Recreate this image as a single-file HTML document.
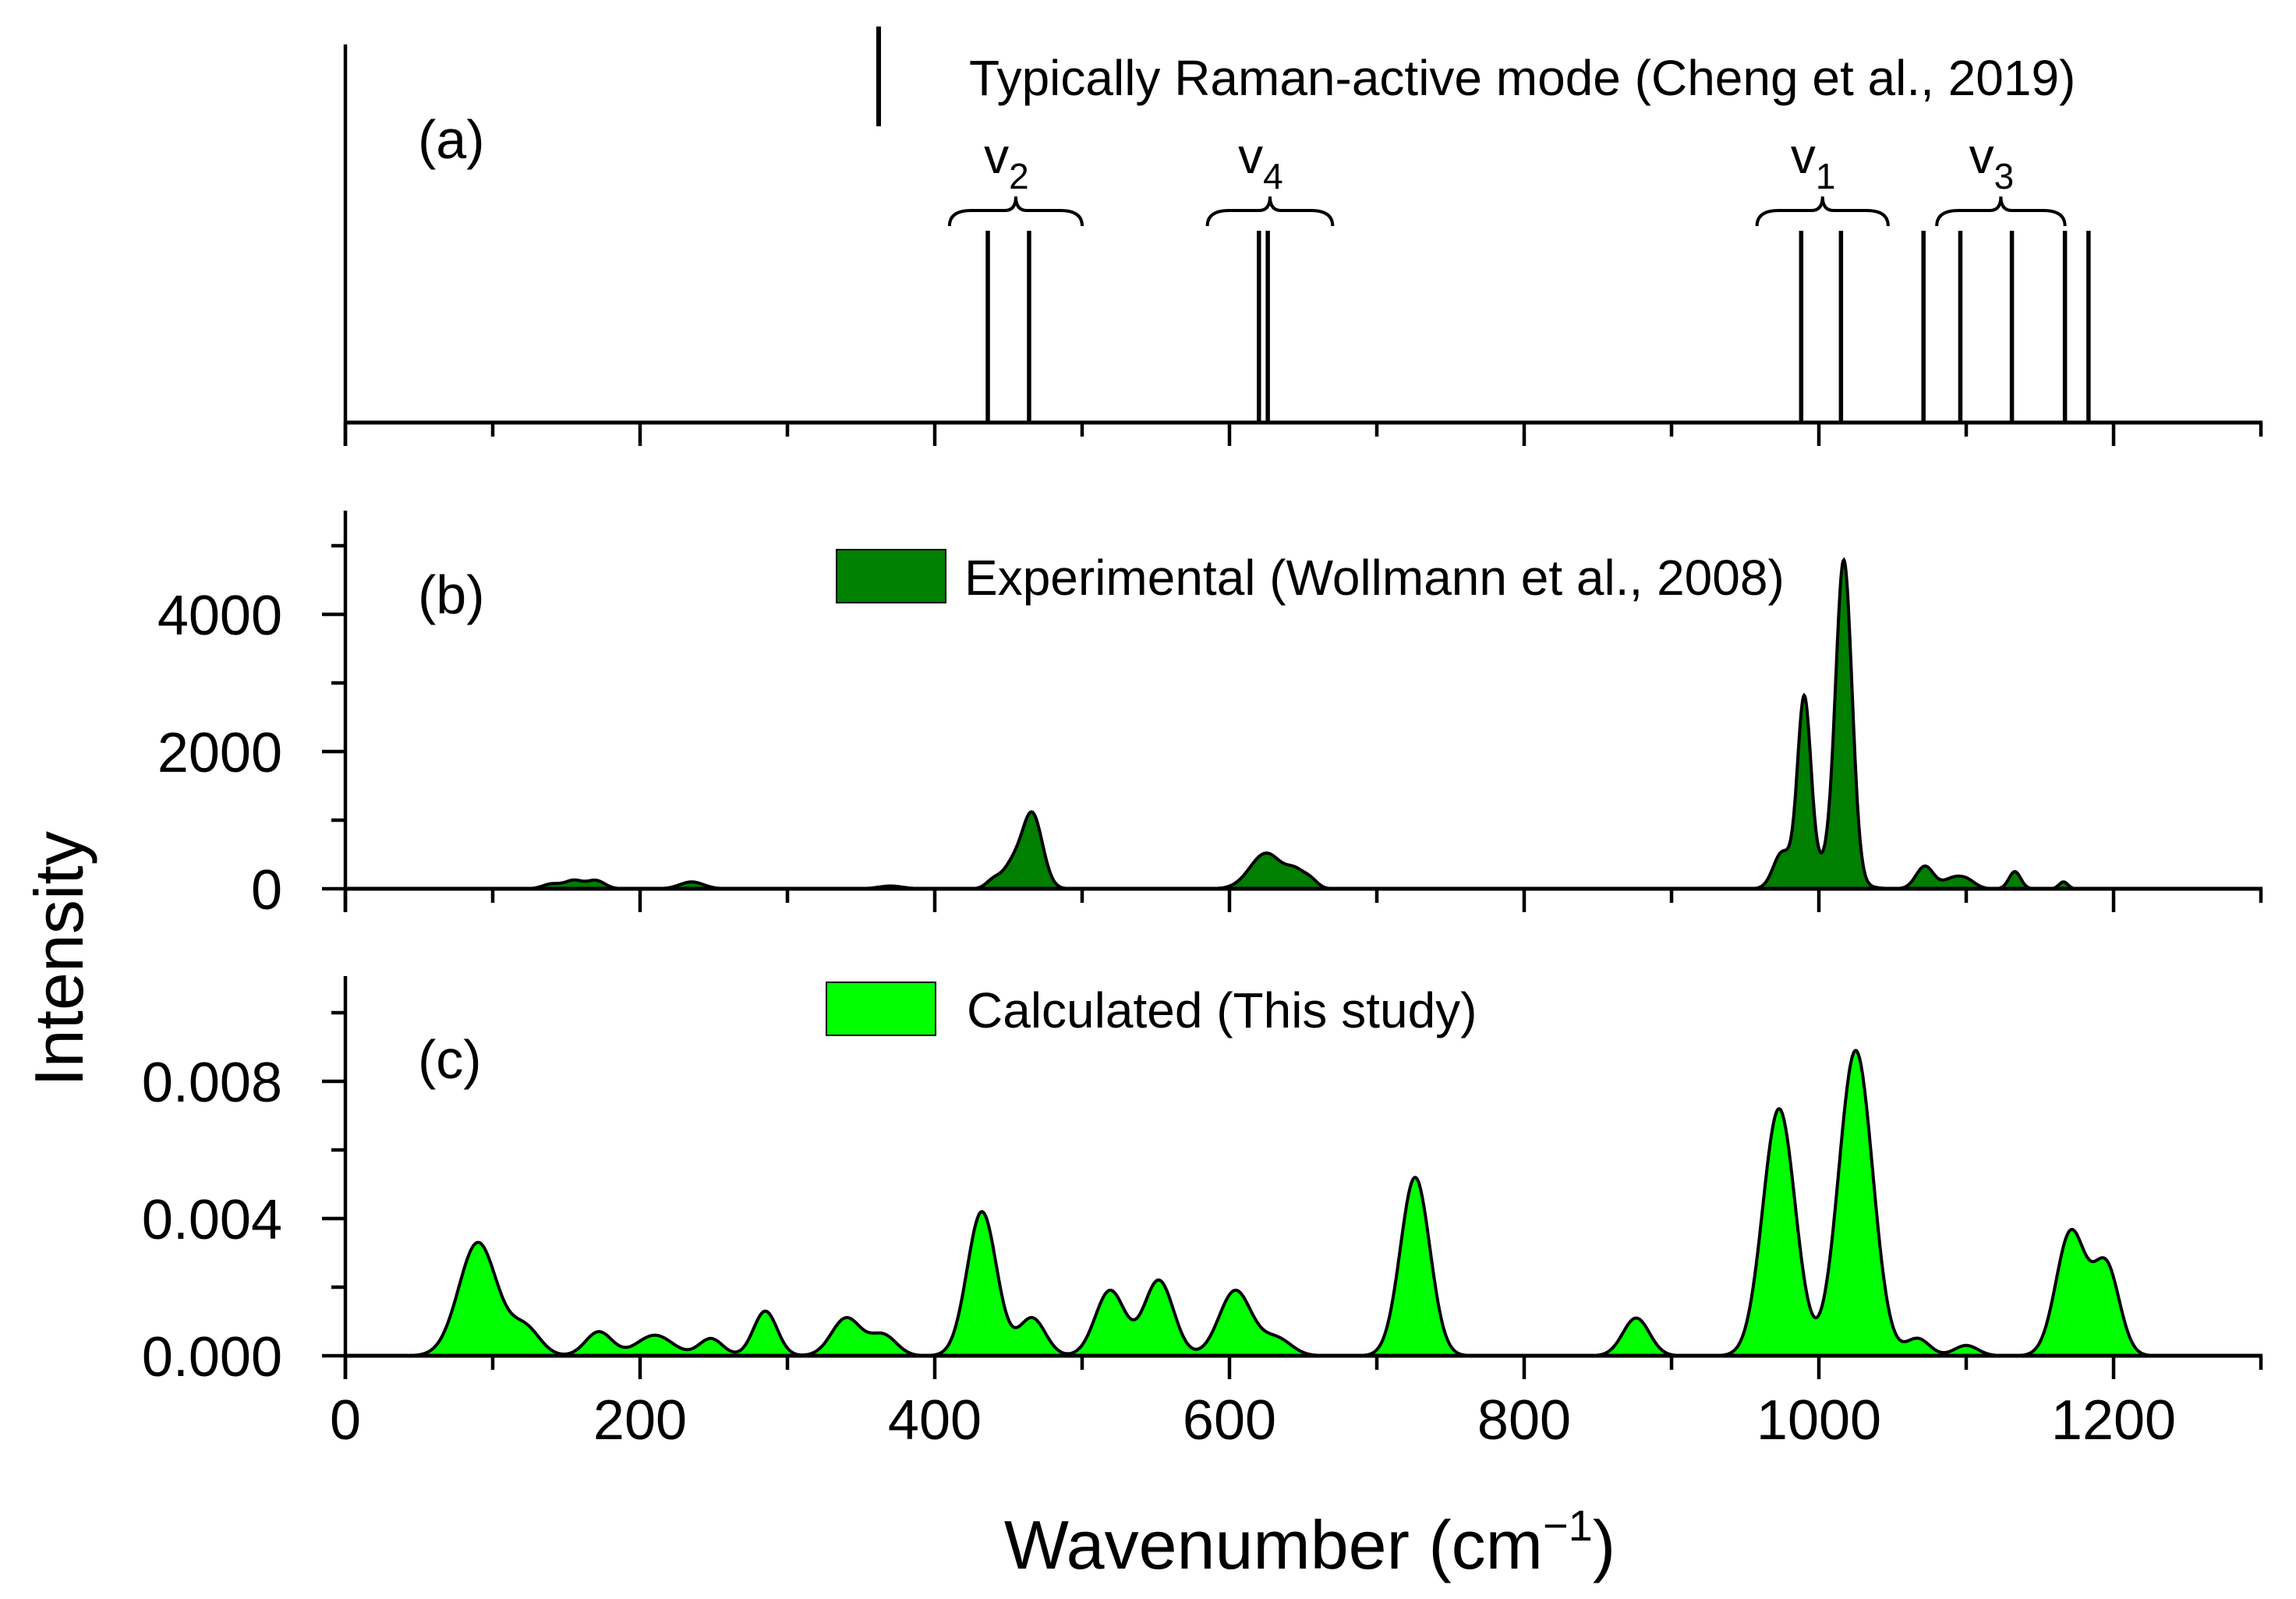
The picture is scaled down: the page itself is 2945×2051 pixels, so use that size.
<!DOCTYPE html>
<html><head><meta charset="utf-8">
<style>
html,body{margin:0;padding:0;background:#fff;}
svg{display:block;font-family:"Liberation Sans",Arial,sans-serif;}
</style></head>
<body>
<svg id="chart" width="2945" height="2051" viewBox="0 0 2945 2051" xmlns="http://www.w3.org/2000/svg">
</svg>
<script>
// ---- data ----
const modeWavenumbers = [436, 464, 620, 626, 988, 1015, 1071, 1096, 1131, 1167, 1183];
const modeGroups = ["ν2", "ν4", "ν1", "ν3"];
const modeGroupRanges = [[410, 500], [585, 670], [958, 1047], [1080, 1167]];
const expCenters = [140, 155, 170, 235, 370, 440, 452, 466, 625, 645, 655, 975, 990, 1005, 1017, 1072, 1090, 1100, 1133, 1166];
const expHeights = [70, 120, 120, 100, 40, 130, 300, 1100, 520, 200, 120, 500, 2600, 350, 4550, 330, 130, 130, 250, 100];
const expWidths  = [6, 6, 6, 8, 8, 5, 6, 7, 11, 6, 5, 6, 4.5, 14, 5.5, 6, 6, 6, 4, 3];
const calcCenters = [90, 122, 172, 210, 248, 285, 340, 365, 432, 466, 519, 552, 604, 632, 726, 876, 973, 1025, 1067, 1100, 1171, 1195];
const calcHeights = [0.0033, 0.0008, 0.0007, 0.0006, 0.0005, 0.0013, 0.0011, 0.0006, 0.0042, 0.0011, 0.0019, 0.0022, 0.0019, 0.0005, 0.0052, 0.0011, 0.0072, 0.0089, 0.0005, 0.0003, 0.0036, 0.0026];
const calcWidths  = [13, 10, 9, 12, 8, 8, 10, 9, 10, 9, 10, 10, 11, 10, 10, 9, 11, 11.5, 8, 8, 10, 9];
const xTickLabels = ["0", "200", "400", "600", "800", "1000", "1200"];
const bTickValues = [0, 2000, 4000];
const bTickLabels = ["0", "2000", "4000"];
const cTickValues = [0, 0.004, 0.008];
const cTickLabels = ["0.000", "0.004", "0.008"];

// ---- layout ----
const NS = "http://www.w3.org/2000/svg";
const svg = document.getElementById("chart");
const X0 = 443, XS = 1.89, XMAX = 1300;
const xs = v => X0 + v * XS;
const aBase = 542, aTop = 57;
const bBase = 1140, bPer = 0.088, bTop = 655;
const yb = v => bBase - v * bPer;
const cBase = 1739, cPer = 44000, cTop = 1252;
const yc = v => cBase - v * cPer;
const TICK_FS = 72;

function el(tag, attrs, parent) {
  const e = document.createElementNS(NS, tag);
  for (const k in attrs) e.setAttribute(k, attrs[k]);
  (parent || svg).appendChild(e);
  return e;
}
function txt(s, attrs, parent) { const t = el("text", attrs, parent); t.textContent = s; return t; }

function xAxis(base, name, labels) {
  const g = el("g", {});
  
  
  el("line", {x1: X0 - 2, y1: base, x2: xs(XMAX) + 2, y2: base, stroke: "#000", "stroke-width": 5}, g);
  for (let v = 0; v <= XMAX; v += 100) {
    const major = v % 200 === 0;
    el("line", {x1: xs(v), y1: base, x2: xs(v), y2: base + (major ? 30 : 18), stroke: "#000", "stroke-width": 4.5}, g);
  }
  if (labels) {
    labels.forEach(l => {
      const t = txt(l, {x: xs(+l), y: base + 107, "font-size": TICK_FS, "text-anchor": "middle"}, g);
      
      
    });
  }
}
function yAxis(top, base, name) {
  const g = el("g", {});
  
  
  el("line", {x1: X0, y1: top, x2: X0, y2: base + 30, stroke: "#000", "stroke-width": 4.5}, g);
  return g;
}

// ---- panel a ----
const aAxis = yAxis(aTop, aBase, "panel-a-y-axis");
xAxis(aBase, "panel-a-x-axis", null);
modeWavenumbers.forEach(w => {
  const l = el("line", {x1: xs(w), y1: 296, x2: xs(w), y2: aBase, stroke: "#000", "stroke-width": 5.5});
  
  
});
function brace(x1, x2, yT, yB) {
  const m = (x1 + x2) / 2, r = 14;
  const d = `M${x1},${yB} Q${x1},${yT} ${x1 + r * 2},${yT} L${m - r},${yT} Q${m},${yT} ${m},${yT - 18} Q${m},${yT} ${m + r},${yT} L${x2 - r * 2},${yT} Q${x2},${yT} ${x2},${yB}`;
  return el("path", {d: d, fill: "none", stroke: "#000", "stroke-width": 4});
}
modeGroups.forEach((gname, i) => {
  const r = modeGroupRanges[i];
  const x1 = xs(r[0]), x2 = xs(r[1]);
  const b = brace(x1, x2, 270, 290);
  
  
  const m = (x1 + x2) / 2;
  const t = txt("", {x: m - 12, y: 222, "font-size": 64, "text-anchor": "middle"});
  
  
  const t1 = el("tspan", {}, t); t1.textContent = "v";
  const t2 = el("tspan", {dy: 20, "font-size": 46}, t); t2.textContent = gname.slice(1);
});
const lgA = el("line", {x1: 1127, y1: 34, x2: 1127, y2: 162, stroke: "#000", "stroke-width": 6});


const lgAT = txt("Typically Raman-active mode (Cheng et al., 2019)", {x: 1243, y: 122, "font-size": 64});


const pa = txt("(a)", {x: 536, y: 203, "font-size": 70});



// ---- spectra helpers ----
function spectrum(centers, heights, widths, w) {
  let s = 0;
  for (let i = 0; i < centers.length; i++) {
    const d = (w - centers[i]) / widths[i];
    s += heights[i] * Math.exp(-0.5 * d * d);
  }
  return s;
}
function areaPath(centers, heights, widths, ymap, base, lo, hi) {
  let d = `M${xs(lo)},${base}`;
  let line = "";
  for (let w = lo; w <= hi; w += 0.5) {
    const p = `${xs(w).toFixed(1)},${ymap(spectrum(centers, heights, widths, w)).toFixed(1)}`;
    d += " L" + p;
    line += (line ? " L" : "M") + p;
  }
  d += ` L${xs(hi)},${base} Z`;
  return {d, line};
}

// ---- panel b ----
const bAxis = yAxis(bTop, bBase, "panel-b-y-axis");
for (let v = 0; v <= 5000; v += 1000) {
  const major = v % 2000 === 0;
  el("line", {x1: X0, y1: yb(v), x2: X0 - (major ? 30 : 18), y2: yb(v), stroke: "#000", "stroke-width": 4.5}, bAxis);
}
bTickValues.forEach((v, i) => {
  const t = txt(bTickLabels[i], {x: 362, y: yb(v) + 26, "font-size": TICK_FS, "text-anchor": "end"}, bAxis);
  
  
});
const bp = areaPath(expCenters, expHeights, expWidths, yb, bBase, 110, 1200);
const bArea = el("path", {d: bp.d, fill: "#007f00"});


const bLine = el("path", {d: bp.line, fill: "none", stroke: "#000", "stroke-width": 4});


xAxis(bBase, "panel-b-x-axis", null);
const lgB = el("rect", {x: 1073, y: 705, width: 140, height: 68, fill: "#007f00", stroke: "#000", "stroke-width": 2});


const lgBT = txt("Experimental (Wollmann et al., 2008)", {x: 1237, y: 763, "font-size": 64});


const pb = txt("(b)", {x: 536, y: 787, "font-size": 70});



// ---- panel c ----
const cAxis = yAxis(cTop, cBase, "panel-c-y-axis");
for (let k = 0; k <= 5; k++) {
  const v = k * 0.002;
  const major = k % 2 === 0;
  el("line", {x1: X0, y1: yc(v), x2: X0 - (major ? 30 : 18), y2: yc(v), stroke: "#000", "stroke-width": 4.5}, cAxis);
}
cTickValues.forEach((v, i) => {
  const t = txt(cTickLabels[i], {x: 362, y: yc(v) + 26, "font-size": TICK_FS, "text-anchor": "end"}, cAxis);
  
  
});
const cp = areaPath(calcCenters, calcHeights, calcWidths, yc, cBase, 20, 1250);
const cArea = el("path", {d: cp.d, fill: "#00ff00"});


const cLine = el("path", {d: cp.line, fill: "none", stroke: "#000", "stroke-width": 4});


xAxis(cBase, "panel-c-x-axis", xTickLabels);
const lgC = el("rect", {x: 1060, y: 1260, width: 140, height: 68, fill: "#00ff00", stroke: "#000", "stroke-width": 2});


const lgCT = txt("Calculated (This study)", {x: 1240, y: 1318, "font-size": 64});


const pc = txt("(c)", {x: 536, y: 1383, "font-size": 70});



// ---- axis titles ----
const yt = txt("Intensity", {x: 0, y: 0, "font-size": 88, "text-anchor": "middle", transform: "translate(106,1230) rotate(-90)"});


const xt = txt("", {x: 1680, y: 2012, "font-size": 88, "text-anchor": "middle"});


const x1s = el("tspan", {}, xt); x1s.textContent = "Wavenumber (cm";
const x2s = el("tspan", {dy: -36, "font-size": 56}, xt); x2s.textContent = "−1";
const x3s = el("tspan", {dy: 36}, xt); x3s.textContent = ")";
</script>
</body></html>
